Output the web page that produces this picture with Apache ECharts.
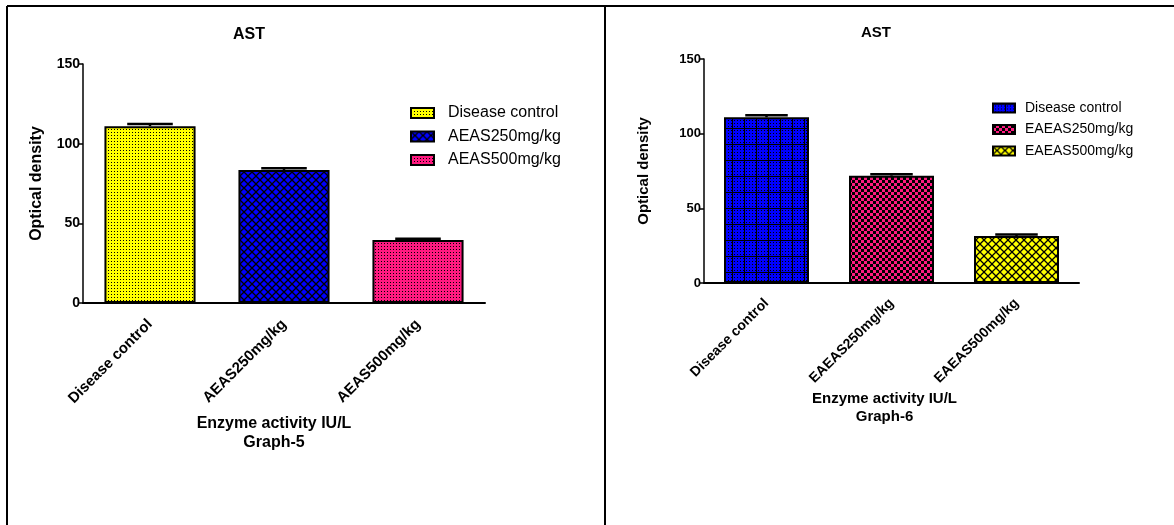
<!DOCTYPE html>
<html>
<head>
<meta charset="utf-8">
<script src="https://cdn.jsdelivr.net/npm/echarts@6/dist/echarts.min.js"></script>
<style>
  html, body { margin: 0; padding: 0; background: #fff; }
  #main { width: 1174px; height: 525px; }
</style>
</head>
<body>
<div id="main"></div>
<script>
// graph-5
const categoriesLeft = ['Disease control', 'AEAS250mg/kg', 'AEAS500mg/kg']
const valuesLeft = [111, 83.5, 39.5]
const errorsLeft = [1.3, 1.0, 0.8]
// graph-6
const categoriesRight = ['Disease control', 'EAEAS250mg/kg', 'EAEAS500mg/kg']
const valuesRight = [111, 71.9, 31.5]
const errorsRight = [1.3, 0.9, 0.9]
const yTicks = [0, 50, 100, 150]

const FONT = 'Arial, "Liberation Sans", sans-serif'

function tile (w, h, draw) {
  const c = document.createElement('canvas')
  c.width = w
  c.height = h
  draw(c.getContext('2d'))
  return { image: c, repeat: 'repeat' }
}
// sparse dots on a coloured ground
function dots (bg, fg, step) {
  return tile(step, step, ctx => {
    ctx.fillStyle = bg
    ctx.fillRect(0, 0, step, step)
    ctx.fillStyle = fg
    ctx.fillRect(0, 0, 1, 1)
  })
}
function checker (bg, fg, cell) {
  return tile(cell * 2, cell * 2, ctx => {
    ctx.fillStyle = bg
    ctx.fillRect(0, 0, cell * 2, cell * 2)
    ctx.fillStyle = fg
    ctx.fillRect(0, 0, cell, cell)
    ctx.fillRect(cell, cell, cell, cell)
  })
}
function lattice (bg, fg, size) {
  return tile(size, size, ctx => {
    ctx.fillStyle = bg
    ctx.fillRect(0, 0, size, size)
    ctx.strokeStyle = fg
    ctx.lineWidth = 1.3
    ctx.beginPath()
    ctx.moveTo(0, 0); ctx.lineTo(size, size)
    ctx.moveTo(size, 0); ctx.lineTo(0, size)
    ctx.stroke()
  })
}
function gridDots (bg, fg, w, h) {
  return tile(w, h, ctx => {
    ctx.fillStyle = bg
    ctx.fillRect(0, 0, w, h)
    ctx.fillStyle = fg
    for (let y = 2; y < h; y += 3) {
      for (let x = 2; x < w; x += 3) ctx.fillRect(x, y, 1, 1)
    }
    ctx.fillRect(0, 0, w, 1)
    ctx.fillRect(0, 0, 1, h)
  })
}

const YELLOW = '#ffff00'
const BLUE = '#0000ff'
const PINK = '#ff1a80'
const patternsLeft = [dots(YELLOW, '#000', 3), lattice(BLUE, '#000', 8), dots(PINK, '#000', 3)]
const patternsRight = [gridDots(BLUE, '#000', 12, 16), checker(PINK, '#000', 3), lattice(YELLOW, '#000', 8)]

function barSeries (cats, vals, patterns, idx, stack) {
  return cats.map((name, i) => ({
    name,
    type: 'bar',
    stack,
    xAxisIndex: idx,
    yAxisIndex: idx,
    barCategoryGap: '32%',
    itemStyle: { color: patterns[i], borderColor: '#000', borderWidth: 2 },
    data: cats.map((c, j) => (j === i ? vals[i] : '-'))
  }))
}

function errorSeries (cats, vals, errs, idx) {
  return {
    type: 'custom',
    xAxisIndex: idx,
    yAxisIndex: idx,
    z: 5,
    encode: { x: 0, y: 1 },
    renderItem (params, api) {
      const i = api.value(0)
      const mean = api.value(1)
      const err = api.value(2)
      const top = api.coord([i, mean + err])
      const base = api.coord([i, mean])
      const half = api.size([1, 0])[0] * 0.68 * 0.25
      const st = { stroke: '#000', lineWidth: 2.5 }
      return {
        type: 'group',
        children: [
          { type: 'line', shape: { x1: top[0], y1: base[1], x2: top[0], y2: top[1] }, style: st },
          { type: 'line', shape: { x1: top[0] - half, y1: top[1], x2: top[0] + half, y2: top[1] }, style: st }
        ]
      }
    },
    data: cats.map((c, i) => [i, vals[i], errs[i]])
  }
}

// legend entries carry their own fill, both charts share the name 'Disease control'
function legendData (cats, patterns) {
  return cats.map((name, i) => ({
    name,
    itemStyle: { color: patterns[i], borderColor: '#000', borderWidth: 2 }
  }))
}

function xAxis (cats, idx, fontSize, margin, nameSize, nameGap, shift, graphNo) {
  return {
    type: 'category',
    gridIndex: idx,
    data: cats,
    axisLine: { lineStyle: { color: '#000', width: 2 } },
    axisTick: { alignWithLabel: true, length: 5, lineStyle: { color: '#000', width: 1.5 } },
    axisLabel: { rotate: 45, margin, color: '#000', fontWeight: 'bold', fontSize, fontFamily: FONT, interval: 0 },
    name: 'Enzyme activity IU/L\nGraph-' + graphNo,
    nameLocation: 'middle',
    nameGap,
    nameTextStyle: { color: '#000', fontWeight: 'bold', fontSize: nameSize, fontFamily: FONT, lineHeight: nameSize + 3, padding: [0, shift, 0, 0] }
  }
}

function yAxis (idx, fontSize, nameSize, nameGap) {
  return {
    type: 'value',
    gridIndex: idx,
    min: yTicks[0],
    max: yTicks[yTicks.length - 1],
    interval: yTicks[1] - yTicks[0],
    splitLine: { show: false },
    axisLine: { show: true, lineStyle: { color: '#000', width: 1.5 } },
    axisTick: { show: true, length: 5, lineStyle: { color: '#000', width: 1.5 } },
    axisLabel: { color: '#000', fontWeight: 'bold', fontSize, fontFamily: FONT, margin: 3 },
    name: 'Optical density',
    nameLocation: 'middle',
    nameGap,
    nameTextStyle: { color: '#000', fontWeight: 'bold', fontSize: nameSize, fontFamily: FONT }
  }
}

const chart = echarts.init(document.getElementById('main'), null, { renderer: 'canvas' })
const option = {
  backgroundColor: '#fff',
  animation: false,
  title: [
    { text: 'AST', left: 249, top: 27, padding: 0, textAlign: 'center', textStyle: { fontSize: 16, fontWeight: 'bold', color: '#000', fontFamily: FONT } },
    { text: 'AST', left: 876, top: 25, padding: 0, textAlign: 'center', textStyle: { fontSize: 15, fontWeight: 'bold', color: '#000', fontFamily: FONT } }
  ],
  legend: [
    {
      data: legendData(categoriesLeft, patternsLeft),
      left: 410,
      top: 105,
      padding: 0,
      orient: 'vertical',
      icon: 'rect',
      itemWidth: 23,
      itemHeight: 10,
      itemGap: 7.5,
      itemStyle: { borderColor: '#000', borderWidth: 2 },
      textStyle: { fontSize: 16, color: '#000', fontFamily: FONT, padding: [0, 0, 0, 9] },
      selectedMode: false
    },
    {
      data: legendData(categoriesRight, patternsRight),
      left: 992,
      top: 101,
      padding: 0,
      orient: 'vertical',
      icon: 'rect',
      itemWidth: 22,
      itemHeight: 9,
      itemGap: 7.5,
      itemStyle: { borderColor: '#000', borderWidth: 2 },
      textStyle: { fontSize: 14, color: '#000', fontFamily: FONT, padding: [0, 0, 0, 5] },
      selectedMode: false
    }
  ],
  grid: [
    { left: 83, right: 689, top: 64, bottom: 222 },
    { left: 704, right: 95, top: 59, bottom: 242 }
  ],
  xAxis: [
    xAxis(categoriesLeft, 0, 15, 19, 16, 111, 20, 5),
    xAxis(categoriesRight, 1, 14, 18, 15, 107, 14, 6)
  ],
  yAxis: [
    yAxis(0, 14, 16, 38),
    yAxis(1, 13, 15, 53)
  ],
  graphic: [
    { type: 'line', shape: { x1: 7, y1: 6, x2: 1174, y2: 6 }, style: { stroke: '#000', lineWidth: 2 } },
    { type: 'line', shape: { x1: 7, y1: 6, x2: 7, y2: 525 }, style: { stroke: '#000', lineWidth: 2 } },
    { type: 'line', shape: { x1: 605, y1: 6, x2: 605, y2: 525 }, style: { stroke: '#000', lineWidth: 2 } }
  ],
  series: [
    ...barSeries(categoriesLeft, valuesLeft, patternsLeft, 0, 'left'),
    errorSeries(categoriesLeft, valuesLeft, errorsLeft, 0),
    ...barSeries(categoriesRight, valuesRight, patternsRight, 1, 'right'),
    errorSeries(categoriesRight, valuesRight, errorsRight, 1)
  ]
}
chart.setOption(option)
</script>
</body>
</html>
